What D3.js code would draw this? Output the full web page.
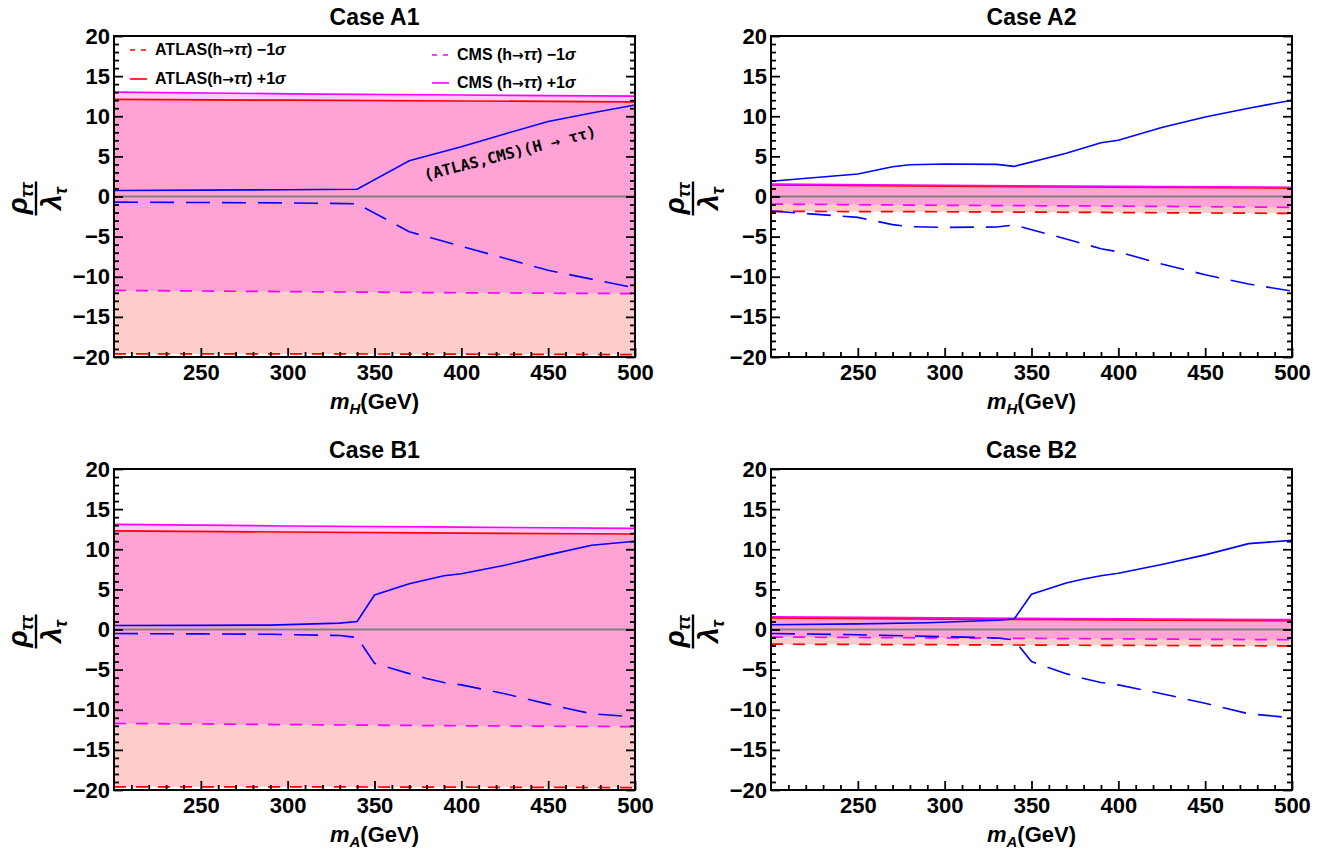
<!DOCTYPE html>
<html>
<head>
<meta charset="utf-8">
<script src="https://cdn.jsdelivr.net/npm/d3@7"></script>
<style>
  body { margin: 0; background: #fff; }
  text { font-family: "Liberation Sans", Arial, sans-serif; font-weight: bold; fill: #000; }
</style>
</head>
<body>
<script>
var bandX = [200, 300, 400, 500];

// Case A1 bands and H -> tautau limits
var a1AtlasUp = [12.1, 12.0, 11.9, 11.8];
var a1AtlasDown = [-19.6, -19.6, -19.65, -19.7];
var a1CmsUp = [13.0, 12.8, 12.65, 12.5];
var a1CmsDown = [-11.7, -11.85, -12.0, -12.1];
var a1X = [200, 250, 300, 340, 370, 400, 425, 450, 475, 500];
var a1Upper = [0.75, 0.8, 0.85, 0.9, 4.45, 6.2, 7.8, 9.35, 10.4, 11.4];
var a1Lower = [-0.7, -0.75, -0.8, -0.9, -4.4, -6.2, -7.7, -9.2, -10.3, -11.4];

// Case A2
var a2AtlasUp = [1.45, 1.3, 1.15, 1.05];
var a2AtlasDown = [-1.85, -1.9, -2.0, -2.1];
var a2CmsUp = [1.55, 1.4, 1.25, 1.15];
var a2CmsDown = [-0.95, -1.1, -1.2, -1.35];
var a2X = [200, 250, 270, 280, 300, 330, 340, 370, 390, 400, 425, 450, 475, 500];
var a2Upper = [1.9, 2.8, 3.7, 3.95, 4.05, 4.0, 3.75, 5.4, 6.7, 7.0, 8.6, 9.9, 11.0, 12.0];
var a2Lower = [-1.8, -2.6, -3.5, -3.75, -3.85, -3.8, -3.55, -5.3, -6.5, -6.9, -8.4, -9.75, -10.9, -11.8];

// Case B1
var b1AtlasUp = [12.3, 12.15, 12.0, 11.9];
var b1AtlasDown = [-19.6, -19.6, -19.65, -19.7];
var b1CmsUp = [13.1, 12.9, 12.75, 12.6];
var b1CmsDown = [-11.7, -11.85, -12.0, -12.1];
var b1X = [200, 250, 290, 330, 340, 350, 370, 380, 390, 400, 425, 450, 475, 500];
var b1Upper = [0.5, 0.52, 0.55, 0.8, 1.0, 4.3, 5.7, 6.2, 6.7, 6.95, 8.0, 9.3, 10.5, 11.0];
var b1Lower = [-0.5, -0.55, -0.6, -0.75, -1.0, -4.2, -5.5, -6.1, -6.6, -6.9, -8.0, -9.3, -10.5, -10.9];

// Case B2
var b2AtlasUp = [1.45, 1.3, 1.2, 1.1];
var b2AtlasDown = [-1.83, -1.9, -1.98, -2.04];
var b2CmsUp = [1.57, 1.45, 1.33, 1.23];
var b2CmsDown = [-0.94, -1.05, -1.17, -1.28];
var b2X = [200, 250, 290, 330, 340, 350, 370, 380, 390, 400, 425, 450, 475, 500];
var b2Upper = [0.6, 0.7, 0.85, 1.15, 1.3, 4.4, 5.8, 6.3, 6.7, 7.0, 8.1, 9.3, 10.7, 11.1];
var b2Lower = [-0.5, -0.65, -0.85, -1.05, -1.3, -4.0, -5.5, -6.1, -6.6, -6.9, -8.0, -9.2, -10.5, -11.0];

// Tick values
var xMajor = [250, 300, 350, 400, 450, 500];
var yMajor = [-20, -15, -10, -5, 0, 5, 10, 15, 20];

// Sizes of the page and of one plot frame
var w = 1322;
var h = 849;
var pw = 521;
var ph = 321;

var panels = [
  {title: "Case A1", sub: "H", left: 114, top: 36, x: a1X, up: a1Upper, down: a1Lower,
   au: a1AtlasUp, ad: a1AtlasDown, cu: a1CmsUp, cd: a1CmsDown},
  {title: "Case A2", sub: "H", left: 771, top: 36, x: a2X, up: a2Upper, down: a2Lower,
   au: a2AtlasUp, ad: a2AtlasDown, cu: a2CmsUp, cd: a2CmsDown},
  {title: "Case B1", sub: "A", left: 114, top: 469, x: b1X, up: b1Upper, down: b1Lower,
   au: b1AtlasUp, ad: b1AtlasDown, cu: b1CmsUp, cd: b1CmsDown},
  {title: "Case B2", sub: "A", left: 771, top: 469, x: b2X, up: b2Upper, down: b2Lower,
   au: b2AtlasUp, ad: b2AtlasDown, cu: b2CmsUp, cd: b2CmsDown}
];

var svg = d3.select("body")
    .append("svg")
    .attr("width", w)
    .attr("height", h);

var xScale = d3.scaleLinear().domain([200, 500]).range([0, pw]);
var yScale = d3.scaleLinear().domain([-20, 20]).range([ph, 0]);

// minor ticks every 10 GeV and every 1 unit
var xMinor = d3.range(210, 500, 10).filter(function(v) { return v % 50 != 0; });
var yMinor = d3.range(-19, 20, 1).filter(function(v) { return v % 5 != 0; });

panels.forEach(function(p, k) {
  var g = svg.append("g")
      .attr("transform", "translate(" + p.left + "," + p.top + ")");

  g.append("clipPath")
      .attr("id", "clip" + k)
      .append("rect")
      .attr("width", pw)
      .attr("height", ph);

  var plot = g.append("g").attr("clip-path", "url(#clip" + k + ")");

  // band between the -1 sigma and +1 sigma lines
  function band(lo, hi) {
    return d3.area()
        .x(function(d, i) { return xScale(bandX[i]); })
        .y0(function(d, i) { return yScale(lo[i]); })
        .y1(function(d, i) { return yScale(hi[i]); })(bandX);
  }
  function bandLine(vals) {
    return d3.line()
        .x(function(d, i) { return xScale(bandX[i]); })
        .y(function(d, i) { return yScale(vals[i]); })(bandX);
  }

  plot.append("path").attr("d", band(p.ad, p.au))
      .attr("fill", "#ff0000").attr("fill-opacity", 0.2);
  plot.append("path").attr("d", band(p.cd, p.cu))
      .attr("fill", "#ff00ff").attr("fill-opacity", 0.2);

  // zero line
  plot.append("line")
      .attr("x1", 0).attr("x2", pw)
      .attr("y1", yScale(0)).attr("y2", yScale(0))
      .attr("stroke", "#808080").attr("stroke-width", 1.8);

  plot.append("path").attr("d", bandLine(p.ad)).attr("fill", "none")
      .attr("stroke", "#ff0000").attr("stroke-width", 1.7).attr("stroke-dasharray", "12,10");
  plot.append("path").attr("d", bandLine(p.cd)).attr("fill", "none")
      .attr("stroke", "#ff00ff").attr("stroke-width", 1.7).attr("stroke-dasharray", "12,10");
  plot.append("path").attr("d", bandLine(p.au)).attr("fill", "none")
      .attr("stroke", "#ff0000").attr("stroke-width", 1.7);
  plot.append("path").attr("d", bandLine(p.cu)).attr("fill", "none")
      .attr("stroke", "#ff00ff").attr("stroke-width", 1.7);

  // H -> tautau limits
  var limit = d3.line()
      .x(function(d, i) { return xScale(p.x[i]); })
      .y(function(d) { return yScale(d); });
  plot.append("path").attr("d", limit(p.up)).attr("fill", "none")
      .attr("stroke", "#0000ff").attr("stroke-width", 1.6);
  plot.append("path").attr("d", limit(p.down)).attr("fill", "none")
      .attr("stroke", "#0000ff").attr("stroke-width", 1.6).attr("stroke-dasharray", "24,12");

  // Axes with inward ticks
  g.append("g").attr("transform", "translate(0," + ph + ")")
      .call(d3.axisBottom(xScale).tickValues(xMajor).tickSizeInner(-9).tickSizeOuter(0).tickPadding(7));
  g.append("g").attr("transform", "translate(0," + ph + ")")
      .call(d3.axisBottom(xScale).tickValues(xMinor).tickSizeInner(-5).tickSizeOuter(0).tickFormat(""));
  g.append("g")
      .call(d3.axisLeft(yScale).tickValues(yMajor).tickSizeInner(-9).tickSizeOuter(0).tickPadding(4));
  g.append("g")
      .call(d3.axisLeft(yScale).tickValues(yMinor).tickSizeInner(-5).tickSizeOuter(0).tickFormat(""));
  g.append("g").attr("transform", "translate(" + pw + ",0)")
      .call(d3.axisRight(yScale).tickValues(yMajor).tickSizeInner(-9).tickSizeOuter(0).tickFormat(""));
  g.append("g").attr("transform", "translate(" + pw + ",0)")
      .call(d3.axisRight(yScale).tickValues(yMinor).tickSizeInner(-5).tickSizeOuter(0).tickFormat(""));

  g.selectAll(".domain").remove();
  g.selectAll(".tick line").attr("stroke", "#000").attr("stroke-width", 1.8);
  g.selectAll(".tick text")
      .style("font-family", "'Liberation Sans', Arial, sans-serif")
      .style("font-weight", "bold")
      .style("font-size", "22px")
      .attr("fill", "#000");

  // Frame
  g.append("rect")
      .attr("width", pw).attr("height", ph)
      .attr("fill", "none").attr("stroke", "#000").attr("stroke-width", 2);

  // Title
  g.append("text")
      .attr("x", pw / 2).attr("y", -11)
      .attr("text-anchor", "middle")
      .style("font-size", "23px")
      .text(p.title);

  // x label
  var xl = g.append("text")
      .attr("x", pw / 2).attr("y", ph + 52)
      .attr("text-anchor", "middle")
      .style("font-size", "22px");
  xl.append("tspan").style("font-style", "italic").text("m");
  xl.append("tspan").style("font-style", "italic").style("font-size", "15px").attr("dy", 5).text(p.sub);
  xl.append("tspan").attr("dy", -5).text("(GeV)");

  // y label: rho_tautau over lambda_tau
  var yl = g.append("g")
      .attr("transform", "translate(-78," + (ph / 2 + 2) + ") rotate(-90)");
  var num = yl.append("text").attr("x", 0).attr("y", -9)
      .attr("text-anchor", "middle").style("font-size", "28px");
  num.append("tspan").style("font-style", "italic").text("ρ");
  num.append("tspan").style("font-style", "italic").style("font-size", "18px").attr("dy", 6).text("ττ");
  yl.append("line").attr("x1", -17).attr("x2", 17).attr("y1", 0).attr("y2", 0)
      .attr("stroke", "#000").attr("stroke-width", 2.4);
  var den = yl.append("text").attr("x", 0).attr("y", 25)
      .attr("text-anchor", "middle").style("font-size", "28px");
  den.append("tspan").style("font-style", "italic").text("λ");
  den.append("tspan").style("font-style", "italic").style("font-size", "18px").attr("dy", 6).text("τ");

  if (k == 0) {
    // Legend of the first panel
    var legend = [
      {lx: 16, ly: 14, color: "#ff0000", dash: "5,6", name: "ATLAS(h", sig: ") −1"},
      {lx: 16, ly: 43, color: "#ff0000", dash: null, name: "ATLAS(h", sig: ") +1"},
      {lx: 318, ly: 19, color: "#ff00ff", dash: "5,6", name: "CMS (h", sig: ") −1"},
      {lx: 318, ly: 47, color: "#ff00ff", dash: null, name: "CMS (h", sig: ") +1"}
    ];
    legend.forEach(function(l) {
      g.append("line")
          .attr("x1", l.lx).attr("x2", l.lx + 17)
          .attr("y1", l.ly).attr("y2", l.ly)
          .attr("stroke", l.color).attr("stroke-width", 1.6)
          .attr("stroke-dasharray", l.dash);
      var t = g.append("text")
          .attr("x", l.lx + 25).attr("y", l.ly + 5)
          .style("font-size", "16px");
      t.append("tspan").text(l.name);
      t.append("tspan").style("font-family", "'DejaVu Sans', sans-serif").style("font-size", "14px").text("→");
      t.append("tspan").style("font-style", "italic").text("ττ");
      t.append("tspan").text(l.sig);
      t.append("tspan").style("font-style", "italic").text("σ");
    });

    // Label on the H -> tautau curve
    g.append("text")
        .attr("transform", "translate(" + xScale(428) + "," + yScale(5.4) + ") rotate(-14.5)")
        .attr("text-anchor", "middle")
        .attr("dy", "0.35em")
        .style("font-family", "'DejaVu Sans Mono', monospace")
        .style("font-size", "15.5px")
        .text("(ATLAS,CMS)(H → ττ)");
  }
});
</script>
</body>
</html>
